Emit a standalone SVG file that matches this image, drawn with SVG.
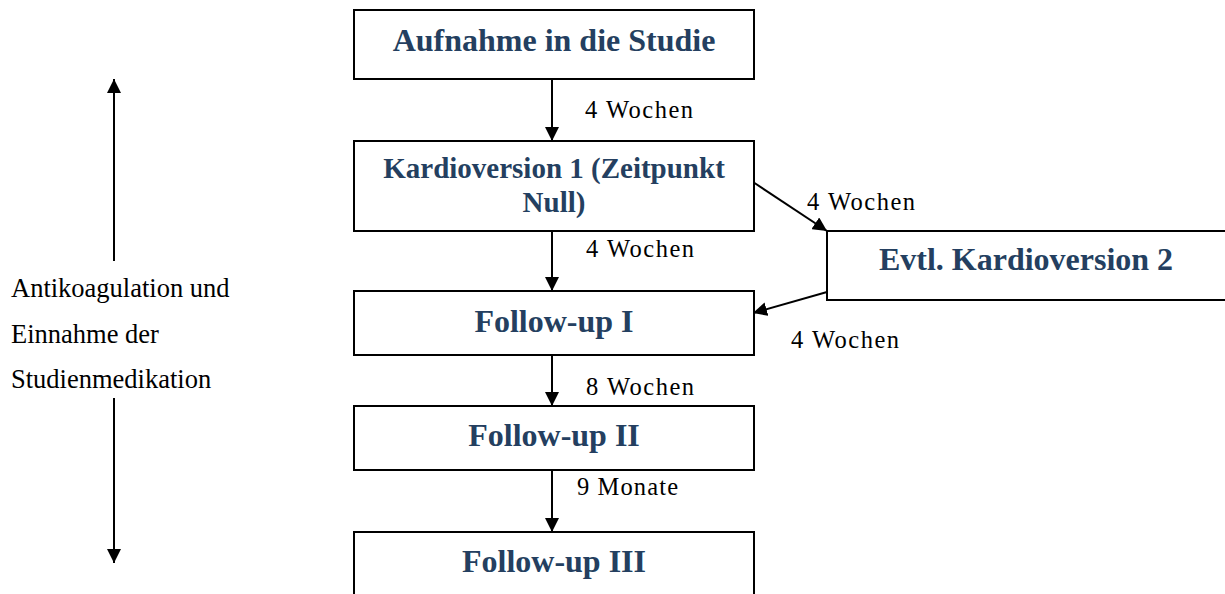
<svg xmlns="http://www.w3.org/2000/svg" width="1225" height="594" viewBox="0 0 1225 594">
<style>
.box{fill:#fff;stroke:#000;stroke-width:2}
.t{font-family:"Liberation Serif","Times New Roman",serif;font-weight:bold;font-size:32px;fill:#243F60;text-anchor:middle}
.t2{font-size:29px}
.lbl{font-family:"Liberation Serif","Times New Roman",serif;font-size:24.5px;fill:#000}
.side{font-family:"Liberation Serif","Times New Roman",serif;font-size:26.5px;fill:#000}
.c{stroke:#000;stroke-width:2;fill:none;marker-end:url(#ah)}
</style>
<defs>
<marker id="ah" markerWidth="14" markerHeight="14" viewBox="0 0 14 14" refX="14" refY="7" orient="auto" markerUnits="userSpaceOnUse">
<path d="M0,0 L14,7 L0,14 Z" fill="#000"/>
</marker>
</defs>
<g id="connectors">
<line class="c" x1="552" y1="79" x2="552" y2="141"/>
<line class="c" x1="552" y1="231" x2="552" y2="291"/>
<line class="c" x1="552" y1="355" x2="552" y2="406"/>
<line class="c" x1="552" y1="470" x2="552" y2="532"/>
<line class="c" x1="753" y1="182" x2="827" y2="231"/>
<line class="c" x1="827" y1="292" x2="753" y2="313"/>
<line class="c" x1="114" y1="261" x2="114" y2="79"/>
<line class="c" x1="114" y1="398" x2="114" y2="563"/>
</g>
<g id="n1"><rect class="box" x="354" y="10" width="400" height="69"/><text class="t" x="554" y="51">Aufnahme in die Studie</text></g>
<g id="n2"><rect class="box" x="354" y="141" width="400" height="90"/><text class="t t2" x="554" y="178">Kardioversion 1 (Zeitpunkt</text><text class="t t2" x="554" y="212">Null)</text></g>
<g id="n3"><rect class="box" x="827" y="231" width="410" height="69"/><text class="t" x="1026" y="270">Evtl. Kardioversion 2</text></g>
<g id="n4"><rect class="box" x="354" y="291" width="400" height="64"/><text class="t" x="554" y="332">Follow-up I</text></g>
<g id="n5"><rect class="box" x="354" y="406" width="400" height="64"/><text class="t" x="554" y="446">Follow-up II</text></g>
<g id="n6"><rect class="box" x="354" y="532" width="400" height="80"/><text class="t" x="554" y="572">Follow-up III</text></g>
<g id="labels">
<text class="lbl" x="585" y="118" textLength="108" lengthAdjust="spacing">4 Wochen</text>
<text class="lbl" x="586" y="257" textLength="108" lengthAdjust="spacing">4 Wochen</text>
<text class="lbl" x="807" y="210" textLength="108" lengthAdjust="spacing">4 Wochen</text>
<text class="lbl" x="791" y="348" textLength="108" lengthAdjust="spacing">4 Wochen</text>
<text class="lbl" x="586" y="395" textLength="108" lengthAdjust="spacing">8 Wochen</text>
<text class="lbl" x="577" y="495" textLength="101" lengthAdjust="spacing">9 Monate</text>
</g>
<g id="side">
<text class="side" x="11" y="297">Antikoagulation und</text>
<text class="side" x="11" y="343">Einnahme der</text>
<text class="side" x="11" y="388">Studienmedikation</text>
</g>
</svg>
